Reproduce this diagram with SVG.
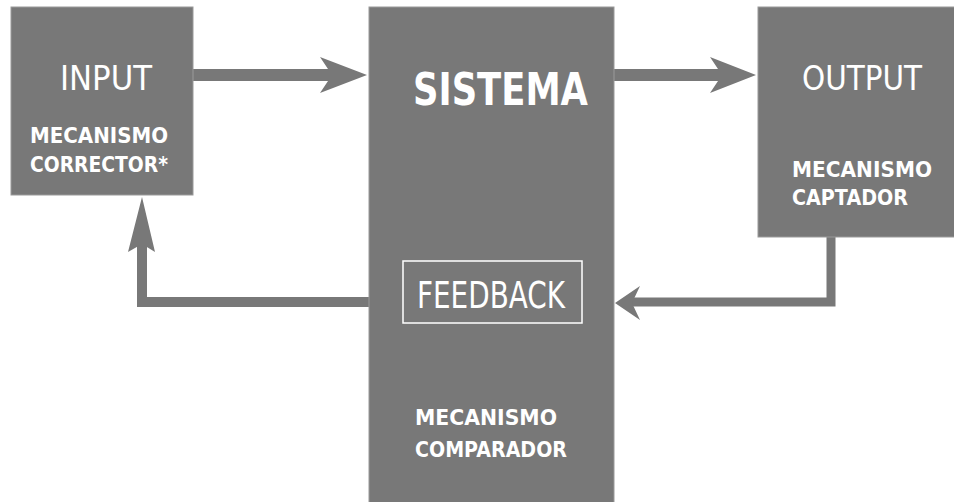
<svg xmlns="http://www.w3.org/2000/svg" width="954" height="502" viewBox="0 0 954 502">
<style>
.box{fill:#787878;stroke:#9a9a9a;stroke-width:1}
.t{fill:#ffffff;font-family:"DejaVu Sans","Liberation Sans",sans-serif}
.big{font-size:34px}
.sm{font-size:22px;font-weight:bold}
.line{fill:none;stroke:#787878;stroke-linejoin:miter}
.head{fill:#787878}
</style>
<rect x="0" y="0" width="954" height="502" fill="#ffffff"/>
<g id="connectors">
  <line class="line" x1="193" y1="75" x2="340" y2="75" stroke-width="12"/>
  <polygon class="head" points="320,57 367,75 320,93 332,75"/>
  <line class="line" x1="614" y1="75" x2="730" y2="75" stroke-width="12"/>
  <polygon class="head" points="710,57 756,75 710,93 722,75"/>
  <polyline class="line" points="831,237 831,302 625,302" stroke-width="9"/>
  <polygon class="head" points="640,286 615,303 640,320 632,303"/>
  <polyline class="line" points="369,302 142,302 142,236" stroke-width="10"/>
  <polygon class="head" points="128,252 142,197 155,252 142,244"/>
</g>
<g id="input">
  <rect class="box" x="11" y="7" width="182" height="188"/>
  <text class="t big" x="60" y="90" textLength="92" lengthAdjust="spacingAndGlyphs">INPUT</text>
  <text class="t sm" x="30" y="143" textLength="138" lengthAdjust="spacingAndGlyphs">MECANISMO</text>
  <text class="t sm" x="30" y="172" textLength="138" lengthAdjust="spacingAndGlyphs">CORRECTOR*</text>
</g>
<g id="sistema">
  <rect class="box" x="369" y="7" width="245" height="500"/>
  <text class="t" x="413" y="105" font-size="44" font-weight="bold" textLength="175" lengthAdjust="spacingAndGlyphs">SISTEMA</text>
  <g id="feedback">
    <rect x="403" y="261" width="179" height="62" fill="none" stroke="#ffffff" stroke-width="1.5"/>
    <text class="t" x="417" y="308" font-size="37" textLength="148" lengthAdjust="spacingAndGlyphs">FEEDBACK</text>
  </g>
  <text class="t sm" x="415" y="425" textLength="142" lengthAdjust="spacingAndGlyphs">MECANISMO</text>
  <text class="t sm" x="415" y="457" textLength="152" lengthAdjust="spacingAndGlyphs">COMPARADOR</text>
</g>
<g id="output">
  <rect class="box" x="758" y="7" width="200" height="230"/>
  <text class="t big" x="802" y="90" textLength="120" lengthAdjust="spacingAndGlyphs">OUTPUT</text>
  <text class="t sm" x="792" y="177" textLength="140" lengthAdjust="spacingAndGlyphs">MECANISMO</text>
  <text class="t sm" x="792" y="205" textLength="116" lengthAdjust="spacingAndGlyphs">CAPTADOR</text>
</g>
</svg>
